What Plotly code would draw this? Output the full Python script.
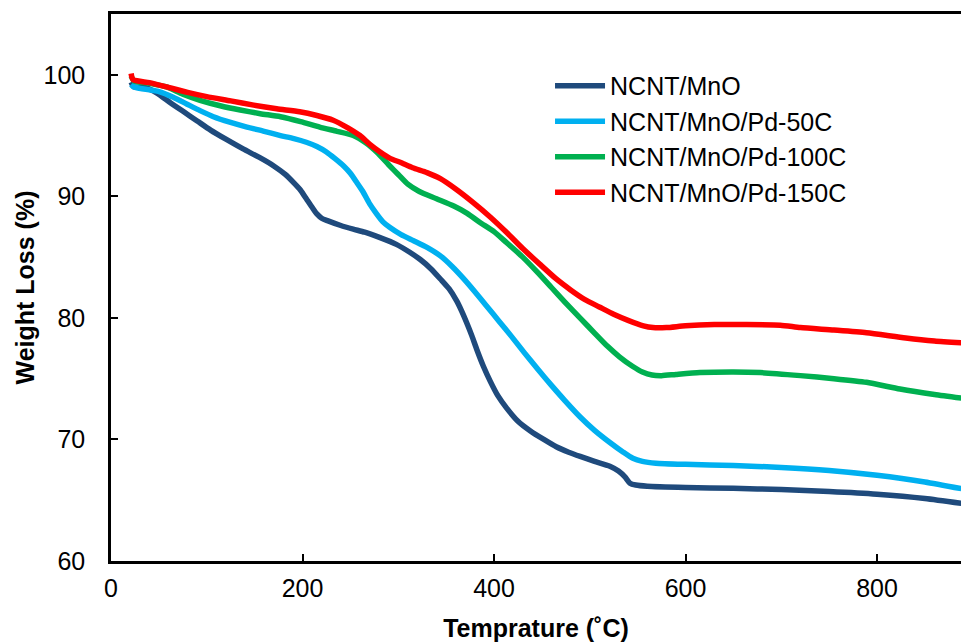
import plotly.graph_objects as go

# NCNT/MnO
t_mno = [21, 24, 35, 48, 62, 76, 90, 104, 120, 138, 155, 170, 182, 191, 198, 204, 210, 215, 220, 226,
         240, 253, 265, 281, 298, 312, 323, 334, 344, 353, 361, 366, 372, 377, 382, 389, 396, 404, 413,
         425, 438, 452, 465, 478, 490, 505, 521, 530, 537, 542, 548, 560, 600, 650, 700, 750, 800, 850, 888]
w_mno = [99.4, 99.0, 98.95, 98.5, 97.7, 96.95, 96.2, 95.45, 94.7, 93.9, 93.2, 92.5, 91.8, 91.1, 90.5, 89.8,
         89.1, 88.55, 88.2, 88.0, 87.6, 87.3, 87.05, 86.6, 86.05, 85.4, 84.8, 84.05, 83.2, 82.4, 81.4, 80.6,
         79.5, 78.5, 77.4, 76.0, 74.8, 73.6, 72.6, 71.5, 70.7, 70.0, 69.4, 68.95, 68.6, 68.2, 67.8, 67.4,
         66.9, 66.4, 66.25, 66.15, 66.05, 65.98, 65.88, 65.72, 65.5, 65.15, 64.75]

# NCNT/MnO/Pd-50C
t_50 = [21, 24, 51, 65, 79, 93, 107, 124, 142, 160, 177, 191, 204, 215, 225, 234, 243, 250, 257, 263, 270,
        277, 284, 291, 303, 316, 330, 344, 356, 368, 380, 392, 405, 418, 432, 446, 460, 474, 490, 505, 521,
        535, 545, 555, 569, 600, 650, 700, 750, 800, 850, 888]
w_50 = [99.2, 99.0, 98.6, 98.15, 97.6, 97.05, 96.55, 96.1, 95.7, 95.35, 95.0, 94.75, 94.45, 94.1, 93.65,
        93.1, 92.5, 91.9, 91.1, 90.4, 89.4, 88.6, 87.9, 87.45, 86.85, 86.35, 85.8, 85.1, 84.25, 83.25, 82.15,
        81.0, 79.75, 78.5, 77.1, 75.75, 74.45, 73.2, 71.85, 70.75, 69.75, 68.95, 68.45, 68.2, 68.05, 67.95,
        67.85, 67.7, 67.45, 67.05, 66.5, 65.95]

# NCNT/MnO/Pd-100C
t_100 = [21, 24, 40, 58, 75, 93, 114, 135, 156, 177, 198, 218, 236, 253, 266, 278, 290, 300, 310, 322, 340,
         358, 372, 385, 400, 413, 430, 446, 460, 474, 491, 505, 518, 531, 545, 555, 565, 575, 590, 615, 650,
         678, 720, 755, 789, 824, 860, 888]
w_100 = [99.9, 99.5, 99.3, 99.0, 98.4, 97.9, 97.45, 97.1, 96.8, 96.55, 96.15, 95.7, 95.35, 95.0, 94.4, 93.6,
         92.6, 91.8, 91.0, 90.4, 89.8, 89.2, 88.6, 87.87, 87.1, 86.2, 85.0, 83.7, 82.5, 81.3, 79.9, 78.75,
         77.7, 76.8, 76.0, 75.55, 75.3, 75.25, 75.35, 75.5, 75.55, 75.5, 75.25, 75.0, 74.7, 74.15, 73.7, 73.4]

# NCNT/MnO/Pd-150C
t_150 = [21, 23, 40, 58, 80, 100, 125, 149, 173, 197, 215, 232, 246, 260, 270, 281, 292, 302, 315, 330, 344,
         360, 378, 396, 413, 430, 448, 465, 480, 495, 510, 525, 540, 556, 566, 580, 600, 630, 660, 699, 720,
         755, 789, 830, 860, 888]
w_150 = [100.1, 99.6, 99.35, 99.0, 98.55, 98.2, 97.85, 97.5, 97.2, 96.96, 96.65, 96.26, 95.7, 95.0, 94.3,
         93.65, 93.1, 92.8, 92.35, 91.95, 91.45, 90.6, 89.5, 88.3, 87.04, 85.7, 84.4, 83.2, 82.3, 81.5,
         80.9, 80.3, 79.8, 79.35, 79.2, 79.2, 79.35, 79.45, 79.45, 79.4, 79.2, 79.0, 78.78, 78.35, 78.1, 77.95]

names = ["NCNT/MnO", "NCNT/MnO/Pd-50C", "NCNT/MnO/Pd-100C", "NCNT/MnO/Pd-150C"]
colors = ["#1F4A7C", "#00B0F0", "#00B050", "#FF0000"]
series = [(t_mno, w_mno), (t_50, w_50), (t_100, w_100), (t_150, w_150)]

x_ticks = [0, 200, 400, 600, 800]
y_ticks = [60, 70, 80, 90, 100]

FONT = "Liberation Sans, Arial, sans-serif"

fig = go.Figure()
for (t, w), n, c in zip(series, names, colors):
    fig.add_trace(go.Scatter(x=t, y=w, name=n, mode="lines",
                             line=dict(color=c, width=5.5, shape="spline", smoothing=0.6)))

fig.update_layout(
    width=961, height=642,
    margin=dict(l=111, r=0, t=14, b=81),
    paper_bgcolor="white", plot_bgcolor="white",
    font=dict(family=FONT, size=25, color="black"),
    legend=dict(x=0.5165, y=0.9105, xanchor="left", yanchor="top",
                bgcolor="rgba(0,0,0,0)", font=dict(size=25), itemwidth=50,
                tracegroupgap=0),
)
fig.update_xaxes(range=[0, 887.7], tickvals=x_ticks, ticks="inside", ticklen=7, tickwidth=1.5,
                 tickcolor="black", showline=True, linewidth=2.5, linecolor="black", mirror=True,
                 showgrid=False, zeroline=False, ticklabelstandoff=3, automargin=False,
                 title=dict(text="<b>Temprature (˚C)</b>", font=dict(size=25), standoff=19))
fig.update_yaxes(range=[60, 105], tickvals=y_ticks, ticks="inside", ticklen=7, tickwidth=1.5,
                 tickcolor="black", showline=True, linewidth=2.5, linecolor="black", mirror=False,
                 showgrid=False, zeroline=False, ticklabelstandoff=18, automargin=False,
                 title=dict(text="<b>Weight Loss (%)</b>", font=dict(size=25), standoff=2))

fig.write_html("out.html")
